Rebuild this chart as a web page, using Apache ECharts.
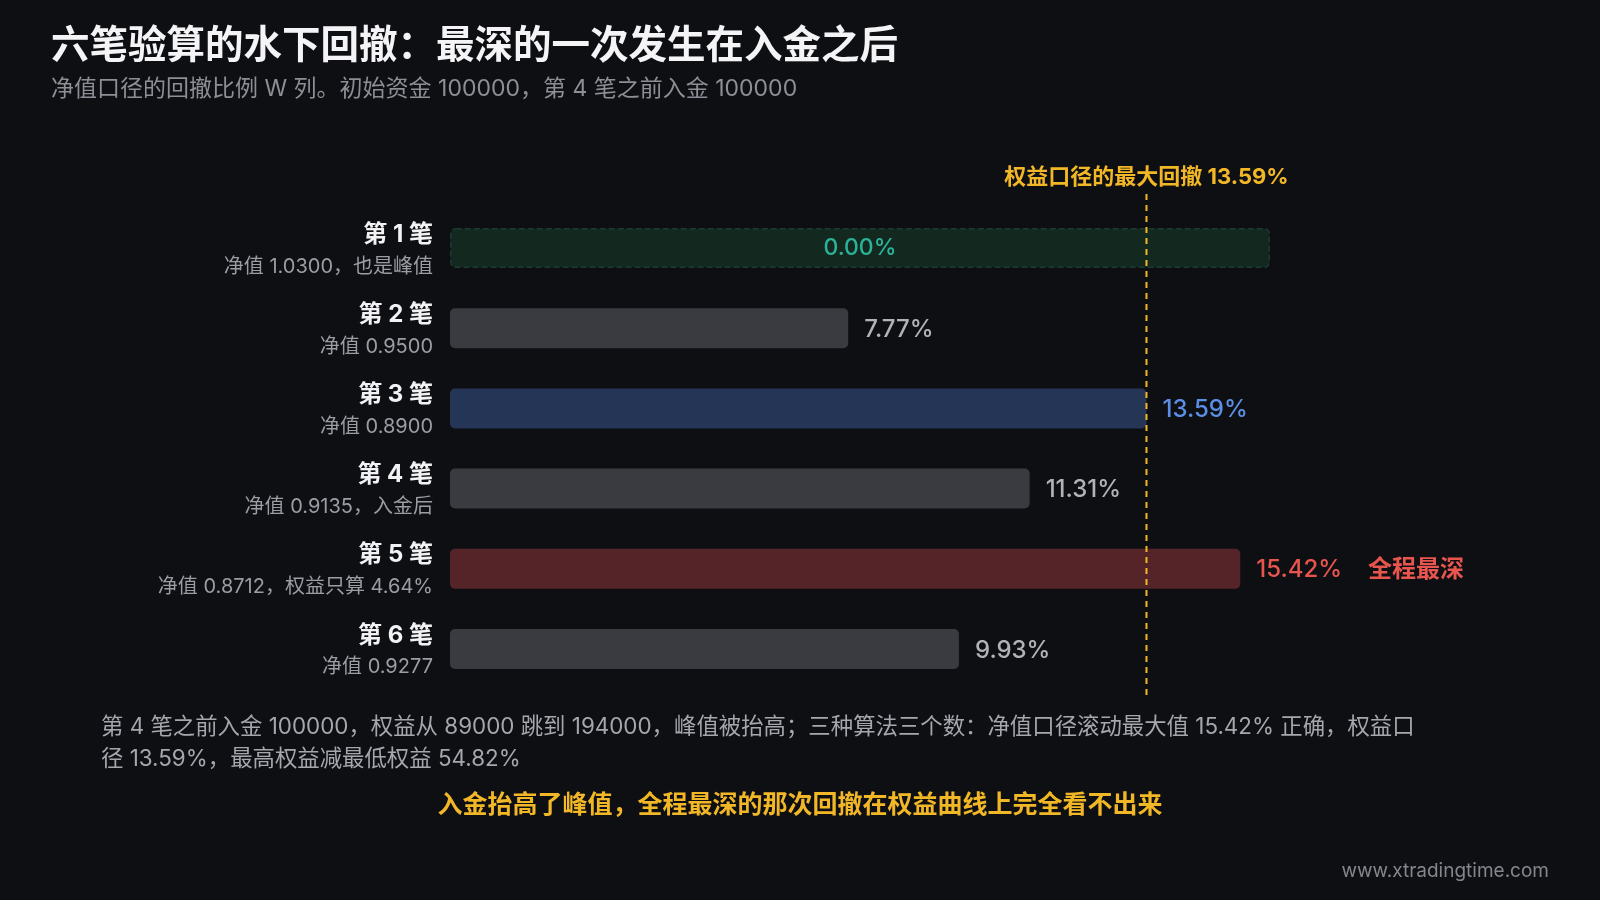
<!DOCTYPE html>
<html>
<head>
<meta charset="utf-8">
<script src="https://cdn.jsdelivr.net/npm/echarts@6/dist/echarts.min.js"></script>
<style>
html,body{margin:0;padding:0;background:#0e0f13;}
#c{width:1600px;height:900px;}
</style>
</head>
<body>
<div id="c"></div>
<script>
// ---- data ----
const categories = ['第 1 笔', '第 2 笔', '第 3 笔', '第 4 笔', '第 5 笔', '第 6 笔'];
const navNotes = ['净值 1.0300，也是峰值', '净值 0.9500', '净值 0.8900', '净值 0.9135，入金后', '净值 0.8712，权益只算 4.64%', '净值 0.9277'];
const drawdowns = [0, 7.77, 13.59, 11.31, 15.42, 9.93];
const barKinds = ['peak', 'normal', 'equity', 'normal', 'deepest', 'normal'];
const equityMaxDD = 13.59;
const xMax = 16;
const deepestTag = '全程最深';
const titleText = '六笔验算的水下回撤：最深的一次发生在入金之后';
const subtitleText = '净值口径的回撤比例 W 列。初始资金 100000，第 4 笔之前入金 100000';
const markText = '权益口径的最大回撤 13.59%';
const noteText = '第 4 笔之前入金 100000，权益从 89000 跳到 194000，峰值被抬高；三种算法三个数：净值口径滚动最大值 15.42% 正确，权益口\n径 13.59%，最高权益减最低权益 54.82%';
const conclusionText = '入金抬高了峰值，全程最深的那次回撤在权益曲线上完全看不出来';
const siteText = 'www.xtradingtime.com';

// ---- styles ----
const FONT = 'Inter, "Noto Sans CJK SC", "Noto Sans", sans-serif';
const kindStyle = {
  normal: {bar: '#3a3b40', label: '#b2b2b8'},
  equity: {bar: '#243556', label: '#5b8fe6'},
  deepest: {bar: '#552428', label: '#e8554e'},
  peak: {bar: '#13281f', label: '#2bb39a'}
};
const YELLOW = '#f2b726';

const chart = echarts.init(document.getElementById('c'));

const mainData = drawdowns.map((v, i) => {
  const k = barKinds[i];
  return {
    value: v,
    itemStyle: {color: kindStyle[k].bar, borderRadius: 5},
    label: {show: k !== 'peak'}
  };
});
const peakData = drawdowns.map((v, i) => barKinds[i] === 'peak' ? xMax : '-');

const option = {
  backgroundColor: '#0e0f13',
  animation: false,
  textStyle: {fontFamily: FONT},
  grid: {left: 450, width: 820, top: 208, height: 481, containLabel: false},
  xAxis: {type: 'value', min: 0, max: xMax, show: false},
  yAxis: {
    type: 'category', data: categories, inverse: true,
    axisLine: {show: false}, axisTick: {show: false}, splitLine: {show: false},
    axisLabel: {
      margin: 17,
      padding: [5, 0, 0, 0],
      formatter: (val, idx) => '{t|' + val + '}\n{s|' + navNotes[idx] + '}',
      rich: {
        t: {fontFamily: FONT, fontSize: 24, fontWeight: 'bold', color: '#f2f2f4', lineHeight: 32, align: 'right'},
        s: {fontFamily: FONT, fontSize: 20, color: '#9c9ca4', lineHeight: 32, align: 'right'}
      }
    }
  },
  series: [
    {
      type: 'bar', name: 'peak', data: peakData, barWidth: 40, barGap: '-100%', z: 1,
      itemStyle: {color: kindStyle.peak.bar, borderColor: '#1d3a31', borderWidth: 1.5, borderType: 'dashed', borderRadius: 5},
      label: {
        show: true, position: 'inside', padding: [4, 0, 0, 0],
        formatter: (p) => drawdowns[p.dataIndex].toFixed(2) + '%',
        fontFamily: FONT, fontSize: 23, fontWeight: 500, color: kindStyle.peak.label
      },
      silent: true
    },
    {
      type: 'bar', name: 'drawdown', data: mainData, barWidth: 40, barGap: '-100%', z: 2,
      label: {
        position: 'right', distance: 16, padding: [3, 0, 0, 0],
        formatter: (p) => {
          const k = barKinds[p.dataIndex];
          const txt = p.value.toFixed(2) + '%';
          if (k === 'deepest') return '{deep|' + txt + '}{tag|' + deepestTag + '}';
          return '{' + k + '|' + txt + '}';
        },
        rich: {
          normal: {fontFamily: FONT, fontSize: 24, fontWeight: 500, color: kindStyle.normal.label},
          equity: {fontFamily: FONT, fontSize: 24, fontWeight: 500, color: kindStyle.equity.label},
          deep: {fontFamily: FONT, fontSize: 24, fontWeight: 500, color: kindStyle.deepest.label},
          tag: {fontFamily: FONT, fontSize: 24, fontWeight: 'bold', color: kindStyle.deepest.label, padding: [0, 0, 0, 26]}
        }
      }
    }
  ],
  graphic: [
    {id: 'title', type: 'text', left: 51, top: 27, style: {text: titleText, font: 'bold 38.5px ' + FONT, fill: '#f4f4f6'}},
    {id: 'sub', type: 'text', left: 51, top: 78, style: {text: subtitleText, font: '23px ' + FONT, fill: '#8e8e96'}},
    {id: 'note', type: 'text', left: 101, top: 711, style: {text: noteText, font: '22.4px ' + FONT, fill: '#a6a6ae', lineHeight: 32}},
    {id: 'concl', type: 'text', left: 'center', top: 793, style: {text: conclusionText, font: 'bold 25px ' + FONT, fill: YELLOW}},
    {id: 'site', type: 'text', right: 51, top: 862, style: {text: siteText, font: '19px ' + FONT, fill: '#85858d'}}
  ]
};
chart.setOption(option);

// equity-basis max drawdown marker, positioned through the x scale
const mx = chart.convertToPixel({gridIndex: 0}, [equityMaxDD, 0])[0];
chart.setOption({
  graphic: [
    {id: 'mline', type: 'line', z: 50, shape: {x1: mx, y1: 194, x2: mx, y2: 700},
      style: {stroke: YELLOW, lineWidth: 2, lineDash: [6, 5]}},
    {id: 'mtext', type: 'text', z: 50, x: mx, y: 177,
      style: {text: markText, font: 'bold 22px ' + FONT, fill: YELLOW, align: 'center', verticalAlign: 'middle'}}
  ]
});
</script>
</body>
</html>
